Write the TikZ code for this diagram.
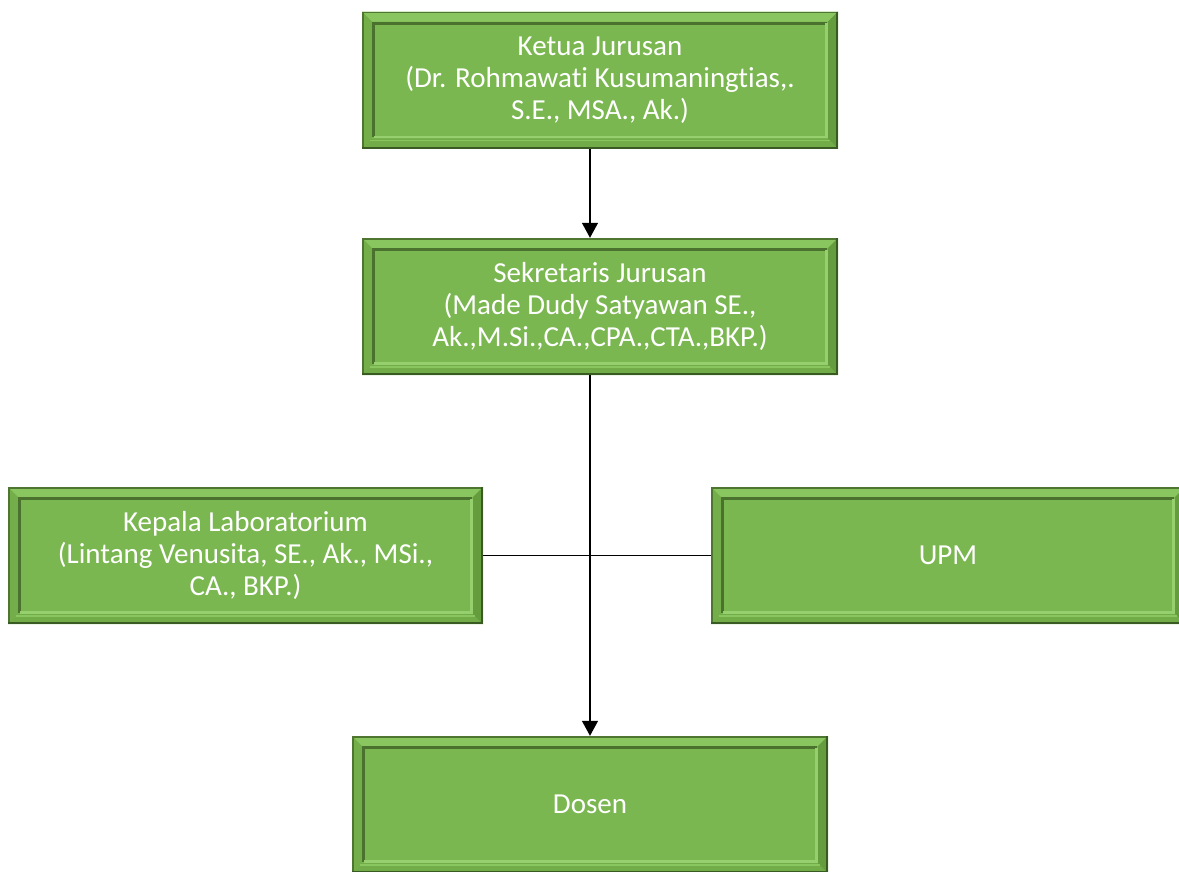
\documentclass[tikz,border=0pt]{standalone}
\usepackage{fontspec}
\setmainfont[Ligatures=NoCommon]{Carlito}
\usetikzlibrary{calc,arrows.meta}
\definecolor{gmain}{RGB}{123,183,80}
\definecolor{gtop}{RGB}{138,198,96}
\definecolor{gleft}{RGB}{116,174,74}
\definecolor{gbot}{RGB}{114,172,72}
\definecolor{gright}{RGB}{100,156,62}
\definecolor{gdark}{RGB}{74,114,46}
\definecolor{glight}{RGB}{150,208,110}
\definecolor{gedge}{RGB}{58,90,36}
\tikzset{
  bev/.style={rectangle, fill=gmain, inner sep=0pt,
    minimum width=476pt, minimum height=137pt,
    text=white, align=center, font=\fontsize{29}{32}\selectfont,
    path picture={
      \coordinate (nw) at (path picture bounding box.north west);
      \coordinate (ne) at (path picture bounding box.north east);
      \coordinate (sw) at (path picture bounding box.south west);
      \coordinate (se) at (path picture bounding box.south east);
      \fill[gtop] (nw) -- (ne) -- ($(ne)+(-10,10)$) -- ($(nw)+(10,10)$) -- cycle;
      \fill[gleft] (nw) -- (sw) -- ($(sw)+(10,-10)$) -- ($(nw)+(10,10)$) -- cycle;
      \fill[gbot] (sw) -- (se) -- ($(se)+(-10,-10)$) -- ($(sw)+(10,-10)$) -- cycle;
      \fill[gright] (ne) -- (se) -- ($(se)+(-10,-10)$) -- ($(ne)+(-10,10)$) -- cycle;
      \draw[gdark, line width=3pt] ($(sw)+(11.5,-11.5)$) -- ($(nw)+(11.5,11.5)$) -- ($(ne)+(-11.5,11.5)$);
      \draw[glight, line width=2.5pt] ($(ne)+(-11.5,11.5)$) -- ($(se)+(-11.5,-11.5)$) -- ($(sw)+(11.5,-11.5)$);
      \draw[gtop, line width=1.5pt] ($(sw)+(8,-8)$) -- ($(se)+(-8,-8)$);
      \draw[gedge!70!gmain, line width=1.6pt] ($(sw)+(0.8,0)$) -- ($(nw)+(0.8,0.8)$) -- ($(ne)+(0,0.8)$);
      \draw[gedge, line width=1.6pt] ($(ne)+(-0.8,0)$) -- ($(se)+(-0.8,-0.8)$) -- ($(sw)+(0,-0.8)$);
    }},
  conn/.style={line width=1.3pt, black},
  arr/.style={conn, -{Triangle[length=15pt, width=16pt]}}
}
\begin{document}
\begin{tikzpicture}[x=1pt, y=-1pt]
\useasboundingbox (0,0) rectangle (1179,871);
\node[bev] (ketua) at (600,80) {Ketua Jurusan\\(Dr. Rohmawati Kusumaningtias,.\\S.E., MSA., Ak.)};
\node[bev] (sek) at (600,306.5) {Sekretaris Jurusan\\(Made Dudy Satyawan SE.,\\Ak.,M.Si.,CA.,CPA.,CTA.,BKP.)};
\node[bev, minimum width=475pt] (lab) at (245.5,555.5) {Kepala Laboratorium\\(Lintang Venusita, SE., Ak., MSi.,\\CA., BKP.)};
\node[bev, minimum width=474pt] (upm) at (948,555.5) {UPM};
\node[bev] (dosen) at (590,804.5) {Dosen};
\draw[arr] (ketua.south -| dosen.north) -- (sek.north -| dosen.north);
\draw[arr] (sek.south -| dosen.north) -- (dosen.north);
\draw[conn] (lab.east) -- (upm.west);
\end{tikzpicture}
\end{document}
